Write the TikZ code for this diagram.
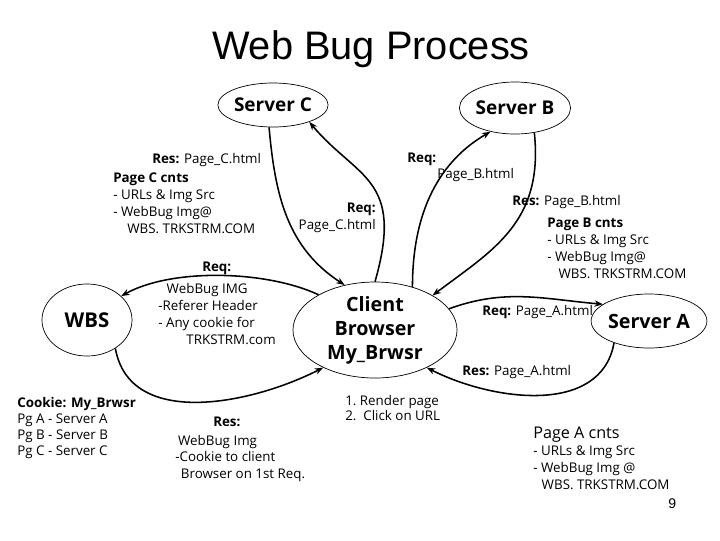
\documentclass[tikz,border=0pt]{standalone}
\usepackage{fontspec}
\setmainfont{Open Sans}
\newfontfamily\titlefont{Liberation Sans}
\usetikzlibrary{arrows.meta,shapes.geometric}

\begin{document}
\begin{tikzpicture}[x=0.025cm,y=0.025cm,
  every node/.style={font=\fontsize{9.5}{12}\selectfont,inner sep=0pt},
  host/.style={draw,ellipse,line width=0.5pt,font=\bfseries\fontsize{13.5}{16}\selectfont},
  link/.style={line width=1.1pt,-{Stealth[length=6pt,width=4.5pt]}},
  note/.style={anchor=north west,align=left}]
  \useasboundingbox (0,0) rectangle (720,-540);
  % title
  \node[font=\titlefont\fontsize{28.3}{30}\selectfont,anchor=base] (title) at (371,-59) {Web Bug Process};
  % hosts
  \node[host,minimum width=2.25cm,minimum height=1.1cm] (srvC) at (273,-105) {Server C};
  \node[host,minimum width=2.15cm,minimum height=1.3cm] (srvB) at (515,-108) {Server B};
  \node[host,minimum width=2.25cm,minimum height=1.8cm,font=\bfseries\fontsize{14.5}{16}\selectfont] (wbs) at (87,-320) {WBS};
  \node[host,minimum width=4.1cm,minimum height=2.4cm,align=center,font=\bfseries\fontsize{14}{17}\selectfont] (cb) at (375,-330) {Client\\Browser\\My\_Brwsr};
  \node[host,minimum width=2.3cm,minimum height=1.35cm,font=\bfseries\fontsize{14}{16}\selectfont] (srvA) at (649,-321) {Server A};
  % requests and responses
  \draw[link] (srvC.-100) to[out=-85,in=147] (cb.124);
  \draw[link] (cb.90) to[out=74,in=-50,out looseness=1.6,in looseness=1.1] (srvC.-25);
  \draw[link] (cb.49) to[out=90,in=-150,out looseness=1.4,in looseness=0.6] (srvB.-136);
  \draw[link] (srvB.-52) to[out=-84,in=37,out looseness=1.2] (cb.31);
  \draw[link] (cb.16) to[out=20,in=175] (srvA.160);
  \draw[link] (srvA.-148) to[out=-100,in=-27] (cb.-36);
  \draw[link] (cb.148) to[out=155,in=29,looseness=0.75] (wbs.35);
  \draw[link] (wbs.-45) to[out=-80,in=-153] (cb.-144);
  % server C side
  \node[note] (resC) at (152,-153) {\textbf{Res:} Page\_C.html};
  \node[note] (cntsC) at (113,-173) {\textbf{Page C cnts}\\- URLs \& Img Src\\- WebBug Img@\\\hspace*{10pt}WBS. TRKSTRM.COM};
  \node[anchor=north east,align=right] (reqC) at (376,-203) {\textbf{Req:}\\Page\_C.html};
  % server B side
  \node[note] (reqB) at (407,-153) {\textbf{Req:}};
  \node[note] (pageB) at (437,-168) {Page\_B.html};
  \node[note] (resB) at (512,-195) {\textbf{Res:} Page\_B.html};
  \node[note] (cntsB) at (547,-218) {\textbf{Page B cnts}\\- URLs \& Img Src\\- WebBug Img@\\\hspace*{8pt}WBS. TRKSTRM.COM};
  % web bug server
  \node[note] (reqW) at (202,-262) {\textbf{Req:}};
  \node[note] (imgW) at (158,-283) {\hspace*{6pt}WebBug IMG\\-Referer Header\\- Any cookie for\\\hspace*{20pt}TRKSTRM.com};
  \node[note] (resW) at (213,-417) {\textbf{Res:}};
  \node[note,font=\fontsize{9.5}{11.7}\selectfont] (imgRes) at (175,-435) {\hspace*{2pt}WebBug Img\\-Cookie to client\\\hspace*{4pt}Browser on 1st Req.};
  \node[note,font=\fontsize{9.5}{11.5}\selectfont] (cookie) at (17,-397) {\textbf{Cookie: My\_Brwsr}\\Pg A - Server A\\Pg B - Server B\\Pg C - Server C};
  % server A side
  \node[note] (reqA) at (482,-305) {\textbf{Req:} Page\_A.html};
  \node[note] (resA) at (462,-365) {\textbf{Res:} Page\_A.html};
  \node[note,font=\fontsize{9.5}{10.7}\selectfont] (steps) at (345,-395) {1.\ Render page\\2.\ \ Click on URL};
  \node[note] (cntsA) at (533,-427) {{\fontsize{11.5}{12}\selectfont Page A cnts}\\- URLs \& Img Src\\- WebBug Img @\\\hspace*{6pt}WBS. TRKSTRM.COM};
  % page number
  \node[anchor=north west,font=\titlefont\fontsize{10}{12}\selectfont] (pgnum) at (668,-498) {9};
\end{tikzpicture}
\end{document}
